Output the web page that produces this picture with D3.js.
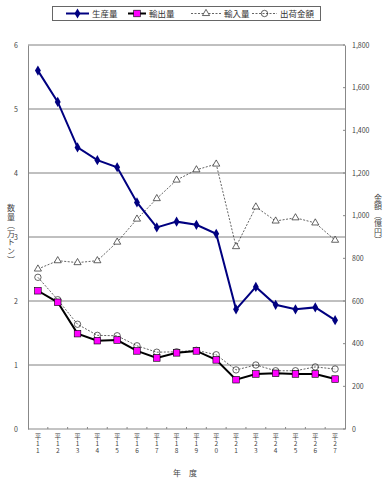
<!DOCTYPE html>
<html lang="ja">
<head>
<meta charset="UTF-8">
<title>生産量・輸出入量・出荷金額</title>
<style>
  body{margin:0;background:#fff;}
  svg text{font-family:"Noto Sans CJK JP","Noto Sans",sans-serif;fill:#333;}
  .vt{writing-mode:vertical-rl;text-orientation:upright;}
</style>
</head>
<body>
<svg width="390" height="490"></svg>
<script src="https://cdn.jsdelivr.net/npm/d3@7"></script>
<script>
  // データ
  var years = ['平11','平12','平13','平14','平15','平16','平17','平18','平19','平20','平21','平23','平24','平25','平26','平27'];
  var production = [5.60, 5.11, 4.40, 4.20, 4.09, 3.54, 3.15, 3.24, 3.19, 3.05, 1.87, 2.22, 1.94, 1.87, 1.90, 1.70];
  var exports = [2.16, 1.98, 1.49, 1.38, 1.39, 1.22, 1.11, 1.19, 1.22, 1.08, 0.77, 0.86, 0.87, 0.86, 0.86, 0.78];
  var imports = [2.50, 2.63, 2.60, 2.63, 2.92, 3.28, 3.60, 3.89, 4.05, 4.14, 2.85, 3.47, 3.25, 3.30, 3.22, 2.95];
  var shipments = [711, 606, 491, 439, 437, 390, 360, 362, 369, 348, 277, 300, 273, 273, 291, 281];
  var leftTicks = [0, 1, 2, 3, 4, 5, 6];
  var rightTicks = [0, 200, 400, 600, 800, 1000, 1200, 1400, 1600, 1800];

  var svg = d3.select('svg');
  var plot = {left: 28, right: 345, top: 45, bottom: 429};

  var x = d3.scaleBand().domain(years).range([plot.left, plot.right]).padding(0);
  var yL = d3.scaleLinear().domain([0, 6]).range([plot.bottom, plot.top]);
  var yR = d3.scaleLinear().domain([0, 1800]).range([plot.bottom, plot.top]);
  var cx = function (d, i) { return x(years[i]) + x.bandwidth() / 2; };

  // 目盛線
  svg.append('g').selectAll('line').data(leftTicks.slice(1)).enter().append('line')
    .attr('x1', plot.left).attr('x2', plot.right)
    .attr('y1', function (d) { return yL(d); }).attr('y2', function (d) { return yL(d); })
    .attr('stroke', '#808080').attr('stroke-width', 1);

  // 左軸
  var gL = svg.append('g').attr('transform', 'translate(' + plot.left + ',0)')
    .call(d3.axisLeft(yL).tickValues(leftTicks).tickSize(0).tickPadding(10).tickFormat(d3.format('d')));
  gL.select('.domain').attr('stroke', '#888');
  gL.selectAll('text').attr('font-size', 7).style('fill', '#444');

  // 右軸
  var gR = svg.append('g').attr('transform', 'translate(' + plot.right + ',0)')
    .call(d3.axisRight(yR).tickValues(rightTicks).tickSize(0).tickPadding(7).tickFormat(d3.format(',')));
  gR.select('.domain').attr('stroke', '#888');
  gR.selectAll('text').attr('font-size', 7).style('fill', '#444');
  gR.append('g').selectAll('line').data(rightTicks).enter().append('line')
    .attr('x1', -2).attr('x2', 0)
    .attr('y1', function (d) { return yR(d); }).attr('y2', function (d) { return yR(d); })
    .attr('stroke', '#888');

  // 下軸
  var gB = svg.append('g').attr('transform', 'translate(0,' + plot.bottom + ')');
  gB.append('line').attr('x1', plot.left).attr('x2', plot.right).attr('stroke', '#888');
  gB.selectAll('.tk').data(years.slice(1)).enter().append('line').attr('class', 'tk')
    .attr('x1', function (d) { return x(d); }).attr('x2', function (d) { return x(d); })
    .attr('y1', 0).attr('y2', -2).attr('stroke', '#888');
  gB.selectAll('.lb').data(years).enter().append('text').attr('class', 'lb vt')
    .attr('x', function (d) { return x(d) + x.bandwidth() / 2; }).attr('y', 4)
    .attr('font-size', 6.5).attr('letter-spacing', 0.6).style('fill', '#444')
    .text(function (d) { return d; });

  // 軸ラベル
  svg.append('text').attr('x', 185).attr('y', 476).attr('text-anchor', 'middle')
    .attr('font-size', 8).style('fill', '#444').text('年　度');
  svg.append('text').attr('class', 'vt').attr('x', 11).attr('y', 204)
    .attr('font-size', 8).attr('letter-spacing', 0.6).style('fill', '#444').text('数量（万トン）');
  svg.append('text').attr('class', 'vt').attr('x', 378).attr('y', 194)
    .attr('font-size', 8).attr('letter-spacing', 0.4).style('fill', '#444').text('金額（億円）');

  // 系列
  var lineL = d3.line().x(cx).y(function (d) { return yL(d); });
  var lineR = d3.line().x(cx).y(function (d) { return yR(d); });

  svg.append('path').attr('d', lineL(imports)).attr('fill', 'none')
    .attr('stroke', '#222').attr('stroke-width', 0.7).attr('stroke-dasharray', '2,1.5');
  svg.append('path').attr('d', lineR(shipments)).attr('fill', 'none')
    .attr('stroke', '#222').attr('stroke-width', 0.7).attr('stroke-dasharray', '2,1.5');
  svg.append('path').attr('d', lineL(exports)).attr('fill', 'none')
    .attr('stroke', '#000').attr('stroke-width', 2);
  svg.append('path').attr('d', lineL(production)).attr('fill', 'none')
    .attr('stroke', '#000080').attr('stroke-width', 2);

  var tri = d3.symbol().type(d3.symbolTriangle).size(22);
  svg.append('g').selectAll('path').data(imports).enter().append('path')
    .attr('d', tri).attr('transform', function (d, i) { return 'translate(' + cx(d, i) + ',' + yL(d) + ')'; })
    .attr('fill', '#fff').attr('stroke', '#222').attr('stroke-width', 0.7);
  svg.append('g').selectAll('circle').data(shipments).enter().append('circle')
    .attr('cx', cx).attr('cy', function (d) { return yR(d); }).attr('r', 3.2)
    .attr('fill', 'none').attr('stroke', '#222').attr('stroke-width', 0.7);
  svg.append('g').selectAll('rect').data(exports).enter().append('rect')
    .attr('x', function (d, i) { return cx(d, i) - 3.3; }).attr('y', function (d) { return yL(d) - 3.3; })
    .attr('width', 6.6).attr('height', 6.6)
    .attr('fill', '#ff00ff').attr('stroke', '#000').attr('stroke-width', 0.6);
  var dia = d3.symbol().type(d3.symbolDiamond).size(30);
  svg.append('g').selectAll('path').data(production).enter().append('path')
    .attr('d', dia).attr('transform', function (d, i) { return 'translate(' + cx(d, i) + ',' + yL(d) + ')'; })
    .attr('fill', '#000080');

  // 凡例
  var lg = svg.append('g');
  lg.append('rect').attr('x', 52.5).attr('y', 6.5).attr('width', 268).attr('height', 14)
    .attr('fill', '#fff').attr('stroke', '#666');
  var items = [
    {name: '生産量', x: 66, w: 23, stroke: '#000080', sw: 2, dash: null, mark: 'dia'},
    {name: '輸出量', x: 128, w: 18, stroke: '#000', sw: 2, dash: null, mark: 'sq'},
    {name: '輸入量', x: 191, w: 30, stroke: '#222', sw: 0.7, dash: '2,1.5', mark: 'tri'},
    {name: '出荷金額', x: 252, w: 25, stroke: '#222', sw: 0.7, dash: '2,1.5', mark: 'cir'}
  ];
  var ly = 13.5;
  items.forEach(function (it) {
    lg.append('line').attr('x1', it.x).attr('x2', it.x + it.w).attr('y1', ly).attr('y2', ly)
      .attr('stroke', it.stroke).attr('stroke-width', it.sw).attr('stroke-dasharray', it.dash);
    var mx = it.x + it.w / 2;
    if (it.mark === 'dia') {
      lg.append('path').attr('d', dia).attr('transform', 'translate(' + mx + ',' + ly + ')').attr('fill', '#000080');
    } else if (it.mark === 'sq') {
      lg.append('rect').attr('x', mx - 3.3).attr('y', ly - 3.3).attr('width', 6.6).attr('height', 6.6)
        .attr('fill', '#ff00ff').attr('stroke', '#000').attr('stroke-width', 0.6);
    } else if (it.mark === 'tri') {
      lg.append('path').attr('d', tri).attr('transform', 'translate(' + mx + ',' + ly + ')')
        .attr('fill', '#fff').attr('stroke', '#222').attr('stroke-width', 0.7);
    } else {
      lg.append('circle').attr('cx', mx).attr('cy', ly).attr('r', 3.2)
        .attr('fill', 'none').attr('stroke', '#222').attr('stroke-width', 0.7);
    }
    lg.append('text').attr('x', it.x + it.w + 3).attr('y', ly + 3).attr('font-size', 8.5)
      .style('fill', '#333').text(it.name);
  });
</script>
</body>
</html>
